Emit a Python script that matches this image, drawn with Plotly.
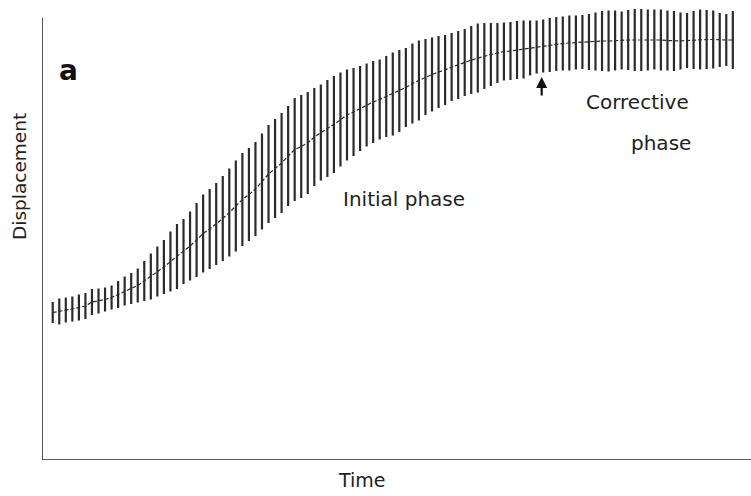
import plotly.graph_objects as go

# Time index of each sampled movement (one vertical bar each)
time_idx = list(range(105))

# Mean displacement (arbitrary units) at each sample
displacement = [
    147.5, 148.5, 150, 151, 152.5, 154, 158, 159, 160.5, 162.5,
    165.5, 169, 171.5, 174.5, 179, 183.5, 188.5, 193, 198.5, 203.5,
    208.5, 214, 220, 226.5, 231, 236, 241.5, 247.5, 254, 260.5,
    265.5, 271, 278.5, 286, 291.5, 297, 304, 310.5, 313.5, 317,
    323, 327.5, 331.5, 335.5, 340.5, 345, 348, 351.5, 355, 358,
    360.5, 363.5, 366, 369, 372.5, 376.5, 379.5, 383, 385.5, 388,
    390, 393, 395, 397.5, 400, 402, 404, 405.5, 407, 408.5,
    409, 410, 410.5, 412, 413, 414, 415, 416, 416.5, 417,
    417.5, 418, 418, 418.5, 419, 419, 419.5, 419.5, 420, 420,
    420, 420, 420.5, 420, 419.5, 419, 419, 419.5, 420, 420.5,
    420.5, 420.5, 420, 420, 420,
]

# Half-range of the variability bar at each sample
spread = [
    10.5, 13, 12.5, 12.5, 13, 13, 13, 12.5, 12, 12,
    13.5, 14.5, 15.5, 17, 20, 23, 25, 27, 30, 32.5,
    32.5, 34.5, 37, 39, 40, 41, 42.5, 44, 45.5, 46.5,
    46.5, 47, 48, 49, 49.5, 50, 50, 51.5, 51.5, 51,
    49, 48, 48.5, 48.5, 47, 45.5, 44, 42.5, 41.5, 41,
    40, 40.5, 41.5, 41, 39.5, 40, 40, 38, 37, 36,
    35, 34, 34, 33.5, 34, 34.5, 33, 31.5, 30, 29,
    29, 29, 29, 27.5, 26.5, 26.5, 27, 27, 27, 27.5,
    27, 27, 28, 29, 30, 30.5, 30, 29, 30, 31,
    31, 30.5, 30, 30.5, 30, 30, 28.5, 27.5, 29, 30,
    29.5, 29, 27, 26, 29,
]

ink = "#2b2b2b"
font_family = "DejaVu Sans, sans-serif"

fig = go.Figure()
fig.add_trace(go.Scatter(
    x=time_idx, y=displacement, mode="lines",
    line=dict(color=ink, width=1.2, dash="4px,2px"),
    error_y=dict(type="data", array=spread, visible=True,
                 thickness=2.2, width=0, color=ink),
    showlegend=False, hoverinfo="skip",
))

x_lo, x_hi = -1.64, 106.78
fig.update_layout(
    width=751, height=496,
    margin=dict(l=42, r=0, t=2, b=36),
    paper_bgcolor="white", plot_bgcolor="white",
    xaxis=dict(range=[x_lo, x_hi], showgrid=False, zeroline=False,
               showticklabels=False, ticks="", showline=False),
    yaxis=dict(range=[0, 458], showgrid=False, zeroline=False,
               showticklabels=False, ticks="", showline=False),
    font=dict(family=font_family, color="#222"),
)

# Axis lines (left axis stops a little below the top of the bars)
fig.add_shape(type="line", xref="x", yref="y", x0=x_lo, x1=x_lo, y0=0, y1=442,
              line=dict(color=ink, width=1.6))
fig.add_shape(type="line", xref="x", yref="y", x0=x_lo, x1=x_hi, y0=0, y1=0,
              line=dict(color=ink, width=1.6))

# Panel letter
fig.add_annotation(text="<b>a</b>", xref="paper", yref="paper", x=0.021, y=0.851,
                   xanchor="left", yanchor="middle", showarrow=False,
                   font=dict(size=28, color="#111"))
# Axis titles
fig.add_annotation(text="Displacement", xref="paper", yref="paper",
                   x=-0.031, y=0.618, xanchor="center", yanchor="middle",
                   textangle=-90, showarrow=False, font=dict(size=18.5))
fig.add_annotation(text="Time", xref="paper", yref="paper",
                   x=0.451, y=-0.044, xanchor="center", yanchor="middle",
                   showarrow=False, font=dict(size=19))
# Phase labels
fig.add_annotation(text="Initial phase", x=53.7, y=261, showarrow=False,
                   font=dict(size=20))
fig.add_annotation(text="Corrective", x=89.4, y=358, showarrow=False,
                   font=dict(size=20))
fig.add_annotation(text="phase", x=93.0, y=317, showarrow=False,
                   font=dict(size=20))
# Arrow marking the start of the corrective phase
fig.add_annotation(text="", x=74.77, y=383, ax=0, ay=20, showarrow=True,
                   arrowhead=2, arrowsize=1, arrowwidth=2.2, arrowcolor="#111")

fig.write_html("out.html")
